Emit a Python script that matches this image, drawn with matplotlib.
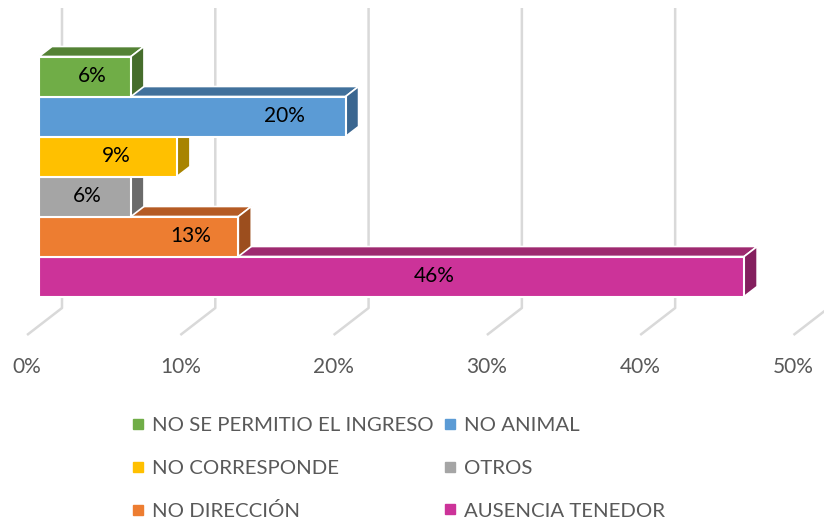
import matplotlib
matplotlib.use("Agg")
import matplotlib.pyplot as plt
from matplotlib.patches import Polygon
from matplotlib.lines import Line2D

# ---- data ----
categories = ["NO SE PERMITIO EL INGRESO", "NO ANIMAL", "NO CORRESPONDE",
              "OTROS", "NO DIRECCIÓN", "AUSENCIA TENEDOR"]
values = [6, 20, 9, 6, 13, 46]          # percent
tick_values = [0, 10, 20, 30, 40, 50]
tick_labels = ["0%", "10%", "20%", "30%", "40%", "50%"]

# ---- style ----
front_colors = ["#70AD47", "#5B9BD5", "#FFC000", "#A5A5A5", "#ED7D31", "#CC3399"]
top_colors = ["#548235", "#41719C", "#BF9000", "#7F7F7F", "#B55B24", "#9E2A70"]
side_colors = ["#466D2C", "#3A6690", "#A88400", "#6B6B6B", "#9C4E1E", "#841F5E"]
label_frac = [0.58, 0.80, 0.56, 0.52, 0.76, 0.56]  # label anchor within bar

plt.rcParams["font.family"] = ["Lato", "DejaVu Sans"]

fig = plt.figure(figsize=(8.24, 5.27), dpi=100)
ax = fig.add_axes([0, 0, 1, 1])
ax.set_xlim(-2.544, 51.21)
ax.set_ylim(11.2625, -1.9125)
ax.axis("off")

dx, dy = 0.848, -0.25          # bar depth offset
wall = 1.5                     # back wall offset from bar front plane
floor_front = -0.78            # floor front edge offset
grid_top, grid_bot, floor_y = -1.7125, 5.7875, 6.4625
gcol = "#D9D9D9"

for t, lab in zip(tick_values, tick_labels):
    ax.plot([t + wall, t + wall, t + floor_front], [grid_top, grid_bot, floor_y],
            color=gcol, lw=1.8, solid_capstyle="butt", zorder=1)
    ax.text(t + floor_front, 7.25, lab, ha="center", va="center",
            fontsize=15, color="#595959")

h = 1.0
n = len(values)
for i in reversed(range(n)):
    v = values[i]
    top, bot = i - h / 2, i + h / 2
    z = 2 + (n - i)
    # top face
    ax.add_patch(Polygon([(0, top), (v, top), (v + dx, top + dy), (0 + dx, top + dy)],
                         closed=True, facecolor=top_colors[i], edgecolor="white",
                         lw=1.2, zorder=z))
    # side face
    ax.add_patch(Polygon([(v, top), (v + dx, top + dy), (v + dx, bot + dy), (v, bot)],
                         closed=True, facecolor=side_colors[i], edgecolor="white",
                         lw=1.2, zorder=z))
    # front face
    ax.add_patch(Polygon([(0, top), (v, top), (v, bot), (0, bot)],
                         closed=True, facecolor=front_colors[i], edgecolor="white",
                         lw=1.5, zorder=z + 0.5))
    ax.text(v * label_frac[i], i, f"{v}%", ha="center", va="center",
            fontsize=15, color="#000000", zorder=20)

handles = [Line2D([], [], marker="s", linestyle="none", markersize=6.8,
                  markerfacecolor=c, markeredgecolor=c) for c in front_colors]
order = [0, 2, 4, 1, 3, 5]
leg = fig.legend([handles[k] for k in order], [categories[k] for k in order],
                 ncol=2, loc="upper left", bbox_to_anchor=(0.1485, 0.225),
                 frameon=False, fontsize=14.7, labelcolor="#595959",
                 handlelength=0.7, handletextpad=0.35, columnspacing=0.45,
                 labelspacing=1.25, borderaxespad=0)

fig.savefig("out.png", dpi=100)
